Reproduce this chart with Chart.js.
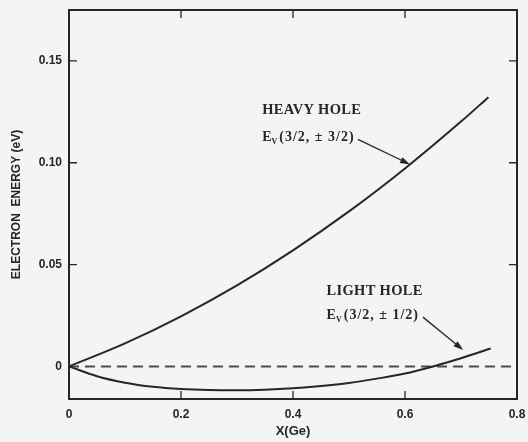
<!DOCTYPE html>
<html lang="en">
<head>
<meta charset="UTF-8">
<title>Valence band edges vs Ge fraction</title>
<script src="https://cdn.jsdelivr.net/npm/chart.js"></script>
<style>
  html, body { margin: 0; padding: 0; background: #f4f4f3; }
  #wrap { width: 528px; height: 442px; position: relative; }
</style>
</head>
<body>
<div id="wrap"><canvas id="chart"></canvas></div>
<script>
  // band edge energy (eV) against Ge fraction
  const heavyX = [0, 0.1, 0.2, 0.3, 0.4, 0.5, 0.6, 0.7, 0.749];
  const heavyE = [0, 0.0113, 0.0246, 0.0398, 0.0570, 0.0761, 0.0972, 0.1202, 0.1322];
  const lightX = [0, 0.05, 0.1, 0.15, 0.2, 0.25, 0.3, 0.35, 0.4, 0.45, 0.5, 0.55, 0.6, 0.65, 0.7, 0.753];
  const lightE = [0, -0.0048, -0.0080, -0.0100, -0.0111, -0.0116, -0.0117, -0.0114, -0.0107, -0.0096, -0.0081, -0.0060, -0.0035, 0.0000, 0.0040, 0.0088];
  const zeroX = [0, 0.8];
  const zeroE = [0, 0];

  const xTicks = [0, 0.2, 0.4, 0.6, 0.8];
  const xTickLabels = ['0', '0.2', '0.4', '0.6', '0.8'];
  const yTicks = [0, 0.05, 0.10, 0.15];
  const yTickLabels = ['0', '0.05', '0.10', '0.15'];

  const ink = '#262626';

  const toPoints = (xs, ys) => xs.map((x, i) => ({ x, y: ys[i] }));

  // curve labels, placed in data units
  const notes = [
    { title: 'HEAVY HOLE', sub: '(3/2, \u00b1 3/2)', x: 0.345, y: 0.1257, y2: 0.1126,
      from: [0.516, 0.1115], to: [0.609, 0.0992] },
    { title: 'LIGHT HOLE', sub: '(3/2, \u00b1 1/2)', x: 0.46, y: 0.0369, y2: 0.0252,
      from: [0.632, 0.0242], to: [0.704, 0.0080] }
  ];

  function arrow(ctx, x1, y1, x2, y2) {
    const a = Math.atan2(y2 - y1, x2 - x1);
    const len = 10, half = 3.2;
    ctx.beginPath();
    ctx.moveTo(x1, y1);
    ctx.lineTo(x2 - Math.cos(a) * len * 0.6, y2 - Math.sin(a) * len * 0.6);
    ctx.stroke();
    ctx.beginPath();
    ctx.moveTo(x2, y2);
    ctx.lineTo(x2 - Math.cos(a) * len - Math.sin(a) * half, y2 - Math.sin(a) * len + Math.cos(a) * half);
    ctx.lineTo(x2 - Math.cos(a) * len + Math.sin(a) * half, y2 - Math.sin(a) * len - Math.cos(a) * half);
    ctx.closePath();
    ctx.fill();
  }

  const framePlugin = {
    id: 'frame',
    afterDatasetsDraw(chart) {
      const { ctx, chartArea: a, scales: { x, y } } = chart;
      ctx.save();
      ctx.strokeStyle = ink;
      ctx.fillStyle = ink;

      // box
      ctx.lineWidth = 2;
      ctx.strokeRect(a.left, a.top, a.right - a.left, a.bottom - a.top);

      // inward tick marks on all four sides
      ctx.lineWidth = 1.3;
      const tl = 8;
      ctx.beginPath();
      xTicks.slice(1, -1).forEach(v => {
        const px = x.getPixelForValue(v);
        ctx.moveTo(px, a.bottom); ctx.lineTo(px, a.bottom - tl);
        ctx.moveTo(px, a.top); ctx.lineTo(px, a.top + tl);
      });
      yTicks.slice(1).forEach(v => {
        const py = y.getPixelForValue(v);
        ctx.moveTo(a.left, py); ctx.lineTo(a.left + tl, py);
        ctx.moveTo(a.right, py); ctx.lineTo(a.right - tl, py);
      });
      ctx.stroke();

      // labels with arrows
      ctx.textBaseline = 'middle';
      ctx.textAlign = 'left';
      notes.forEach(n => {
        const px = x.getPixelForValue(n.x);
        ctx.letterSpacing = '0.3px';
        ctx.font = 'bold 14.5px "Liberation Serif", serif';
        ctx.fillText(n.title, px, y.getPixelForValue(n.y));
        const py2 = y.getPixelForValue(n.y2);
        ctx.letterSpacing = '1px';
        ctx.font = 'bold 14px "Liberation Serif", serif';
        ctx.fillText('E', px, py2);
        const ew = ctx.measureText('E').width;
        ctx.font = 'bold 8px "Liberation Serif", serif';
        ctx.fillText('V', px + ew - 1, py2 + 5);
        const vw = ctx.measureText('V').width;
        ctx.font = 'bold 14px "Liberation Serif", serif';
        ctx.fillText(n.sub, px + ew + vw, py2);
        ctx.letterSpacing = '0px';
        ctx.lineWidth = 1.3;
        arrow(ctx,
          x.getPixelForValue(n.from[0]), y.getPixelForValue(n.from[1]),
          x.getPixelForValue(n.to[0]), y.getPixelForValue(n.to[1]));
      });
      ctx.restore();
    }
  };

  new Chart(document.getElementById('chart'), {
    type: 'line',
    data: {
      datasets: [
        { label: 'Heavy hole', data: toPoints(heavyX, heavyE), borderColor: ink, borderWidth: 2,
          pointRadius: 0, cubicInterpolationMode: 'monotone' },
        { label: 'Light hole', data: toPoints(lightX, lightE), borderColor: ink, borderWidth: 2,
          pointRadius: 0, cubicInterpolationMode: 'monotone' },
        { label: 'Zero', data: toPoints(zeroX, zeroE), borderColor: '#4a4a4a', borderWidth: 2,
          borderDash: [10, 6], pointRadius: 0 }
      ]
    },
    options: {
      responsive: true,
      maintainAspectRatio: false,
      animation: false,
      layout: { padding: { top: 10, right: 11, left: 0, bottom: 0 } },
      plugins: { legend: { display: false }, tooltip: { enabled: false } },
      scales: {
        x: {
          type: 'linear', min: 0, max: 0.8,
          afterBuildTicks: s => { s.ticks = xTicks.map(v => ({ value: v })); },
          afterFit: s => { s.height = 43; s.paddingLeft = 0; s.paddingRight = 0; },
          grid: { display: false, drawTicks: false },
          border: { display: false },
          ticks: {
            padding: 8, color: ink, maxRotation: 0, autoSkip: false,
            font: { family: '"Liberation Sans", Arial, sans-serif', size: 12, weight: 'bold' },
            callback: (v, i) => xTickLabels[i]
          },
          title: {
            display: true, text: 'X(Ge)', color: ink, padding: { top: 0, bottom: 3 },
            font: { family: '"Liberation Sans", Arial, sans-serif', size: 13, weight: 'bold' }
          }
        },
        y: {
          type: 'linear', min: -0.016, max: 0.175,
          afterBuildTicks: s => { s.ticks = yTicks.map(v => ({ value: v })); },
          afterFit: s => { s.width = 69; s.paddingTop = 0; s.paddingBottom = 0; },
          grid: { display: false, drawTicks: false },
          border: { display: false },
          ticks: {
            padding: 7, color: ink, autoSkip: false,
            font: { family: '"Liberation Sans", Arial, sans-serif', size: 12, weight: 'bold' },
            callback: (v, i) => yTickLabels[i]
          },
          title: {
            display: true, text: 'ELECTRON  ENERGY (eV)', color: ink, padding: { top: 9, bottom: 0 },
            font: { family: '"Liberation Sans", Arial, sans-serif', size: 12, weight: 'bold' }
          }
        }
      }
    },
    plugins: [framePlugin]
  });
</script>
</body>
</html>
